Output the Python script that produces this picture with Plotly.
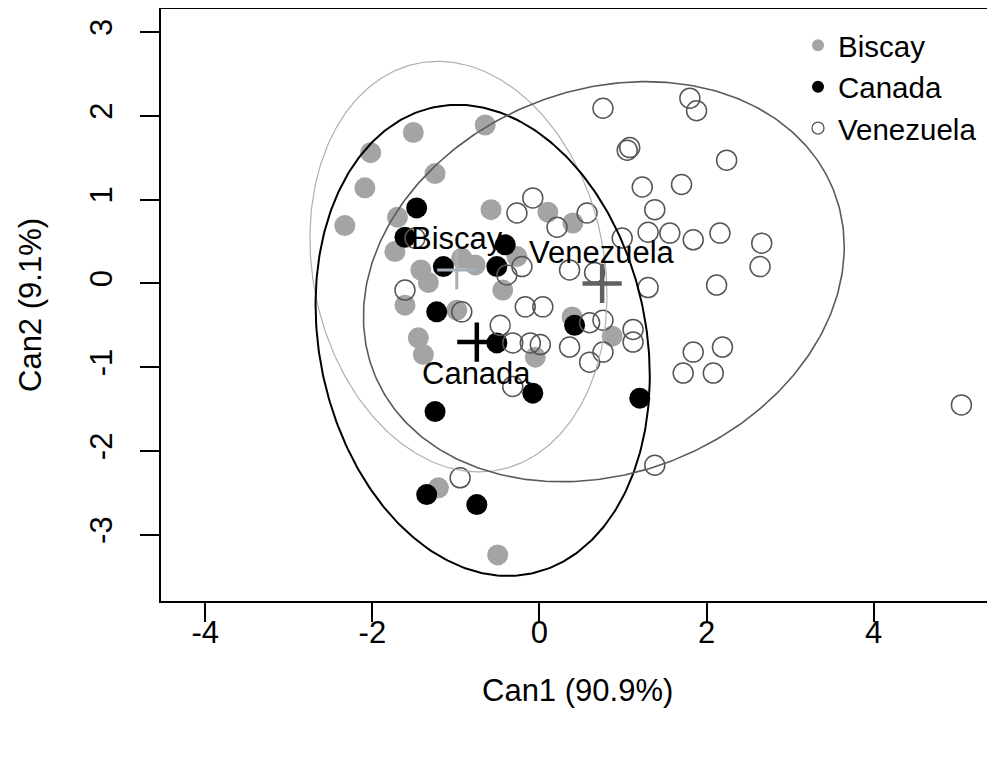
import numpy as np
import plotly.graph_objects as go

# ---- data ----
biscay_x = [-1.51, -2.02, -2.09, -2.33, -1.25, -0.65, -1.70, -0.58, -1.73, -1.42, -1.33, -1.61, -0.99,
            -1.45, -1.39, -0.93, -0.77, -0.27, -0.44, 0.10, 0.40, 0.39, 0.87, -0.05, -1.21, -0.50]
biscay_y = [1.80, 1.56, 1.14, 0.69, 1.31, 1.89, 0.79, 0.88, 0.38, 0.16, 0.01, -0.26, -0.32,
            -0.65, -0.85, 0.30, 0.22, 0.32, -0.08, 0.85, 0.72, -0.40, -0.63, -0.88, -2.44, -3.24]

canada_x = [-1.47, -1.61, -1.15, -0.41, -0.51, -1.23, -0.51, 0.42, -0.08, 1.20, -1.25, -1.35, -0.75]
canada_y = [0.90, 0.55, 0.20, 0.46, 0.20, -0.34, -0.71, -0.50, -1.31, -1.37, -1.53, -2.52, -2.64]

venez_x = [0.76, 1.80, 1.88, 1.05, 1.08, 2.24, 1.23, 1.70, 1.38, 1.30, 1.56, 1.84, 2.16, 2.66, 2.64,
           0.99, 0.57, 2.12, 1.30, -0.08, -0.27, 0.21, -0.21, -0.39, 0.36, 0.66, -0.17, 0.04, 0.76,
           0.60, 1.12, 1.12, 0.76, 0.60, 0.36, 0.01, -0.11, -0.32, -0.47, 1.84, 2.19, 1.72, 2.08,
           1.38, -0.32, -0.95, -1.61, -0.93, -1.49, 5.05]
venez_y = [2.09, 2.21, 2.06, 1.59, 1.62, 1.47, 1.15, 1.18, 0.88, 0.61, 0.60, 0.52, 0.60, 0.48, 0.20,
           0.54, 0.84, -0.02, -0.05, 1.02, 0.84, 0.67, 0.20, 0.10, 0.16, 0.13, -0.28, -0.28, -0.44,
           -0.47, -0.55, -0.70, -0.82, -0.94, -0.76, -0.73, -0.71, -0.71, -0.50, -0.82, -0.76, -1.07, -1.07,
           -2.17, -1.23, -2.32, -0.08, -0.34, 0.54, -1.45]

groups = ["Biscay", "Canada", "Venezuela"]
centroid_x = [-0.99, -0.75, 0.75]
centroid_y = [0.16, -0.70, 0.00]

# ellipse centres and shape matrices [[sxx, sxy], [sxy, syy]]
ell_cx = [-0.97, -0.68, 0.77]
ell_cy = [0.20, -0.68, 0.02]
ell_m = [[[3.16, -0.60], [-0.60, 6.00]],
         [[4.00, -0.85], [-0.85, 7.90]],
         [[8.28, 1.20], [1.20, 5.70]]]

x_ticks = [-4, -2, 0, 2, 4]
y_ticks = [-3, -2, -1, 0, 1, 2, 3]

# ---- styles ----
FONT = "Liberation Sans, Arial, sans-serif"
FS = 31
pt_col = {"Biscay": "#A4A4A4", "Canada": "#000000", "Venezuela": "#555555"}
ell_col = ["#B0B0B0", "#000000", "#5A5A5A"]
ell_w = [1.2, 2.0, 1.6]
cross_col = ["#A8B0B8", "#000000", "#606060"]
cross_w = [3, 4.5, 4.5]

fig = go.Figure()

fig.add_trace(go.Scatter(x=biscay_x, y=biscay_y, mode="markers", showlegend=False,
                         marker=dict(symbol="circle", size=21, color=pt_col["Biscay"], line=dict(width=0))))
fig.add_trace(go.Scatter(x=canada_x, y=canada_y, mode="markers", showlegend=False,
                         marker=dict(symbol="circle", size=21, color=pt_col["Canada"], line=dict(width=0))))
fig.add_trace(go.Scatter(x=venez_x, y=venez_y, mode="markers", showlegend=False,
                         marker=dict(symbol="circle-open", size=20, color=pt_col["Venezuela"],
                                     line=dict(width=1.5, color=pt_col["Venezuela"]))))

t = np.linspace(0, 2 * np.pi, 361)
for i in range(3):
    L = np.linalg.cholesky(np.array(ell_m[i]))
    pts = L @ np.vstack([np.cos(t), np.sin(t)])
    fig.add_trace(go.Scatter(x=ell_cx[i] + pts[0], y=ell_cy[i] + pts[1], mode="lines", showlegend=False,
                             line=dict(color=ell_col[i], width=ell_w[i]), hoverinfo="skip"))

for i in range(3):
    fig.add_trace(go.Scatter(x=[centroid_x[i]], y=[centroid_y[i]], mode="markers", showlegend=False,
                             marker=dict(symbol="cross-thin", size=28,
                                         line=dict(width=cross_w[i], color=cross_col[i]))))

label_shift = [31, -31, 31]
for i in range(3):
    fig.add_annotation(x=centroid_x[i], y=centroid_y[i], text=groups[i], showarrow=False,
                       yshift=label_shift[i], font=dict(family=FONT, size=FS, color="black"))

# legend entries
fig.add_trace(go.Scatter(x=[None], y=[None], mode="markers", name="Biscay",
                         marker=dict(symbol="circle", size=12, color=pt_col["Biscay"])))
fig.add_trace(go.Scatter(x=[None], y=[None], mode="markers", name="Canada",
                         marker=dict(symbol="circle", size=12, color="black")))
fig.add_trace(go.Scatter(x=[None], y=[None], mode="markers", name="Venezuela",
                         marker=dict(symbol="circle-open", size=12, color=pt_col["Venezuela"],
                                     line=dict(width=1.3))))

axis_common = dict(showline=True, linecolor="black", linewidth=1.5, mirror=True,
                   ticks="outside", ticklen=19, tickwidth=1.5, tickcolor="black",
                   showgrid=False, zeroline=False,
                   tickfont=dict(family=FONT, size=FS, color="black"))

fig.update_layout(
    width=987, height=750,
    margin=dict(l=153, r=1, t=1, b=157, autoexpand=False),
    paper_bgcolor="white", plot_bgcolor="white",
    xaxis=dict(range=[-4.53, 5.44], tickvals=x_ticks, ticktext=[str(v) for v in x_ticks],
               ticklabelstandoff=-16, **axis_common),
    yaxis=dict(range=[-3.79, 3.274], tickvals=y_ticks, ticktext=[str(v) for v in y_ticks],
               tickangle=-90, ticklabelstandoff=16, **axis_common),
    legend=dict(x=0.7647, y=0.982, xanchor="left", yanchor="top", bgcolor="rgba(0,0,0,0)",
                font=dict(family=FONT, size=29.5, color="black"), borderwidth=0),
    showlegend=True,
)

fig.add_annotation(text="Can1 (90.9%)", xref="paper", yref="paper", x=0.5, y=0, yanchor="middle",
                   yshift=-89, showarrow=False, font=dict(family=FONT, size=FS, color="black"))
fig.add_annotation(text="Can2 (9.1%)", xref="paper", yref="paper", x=0, y=0.5, xanchor="center",
                   xshift=-131, textangle=-90, showarrow=False,
                   font=dict(family=FONT, size=FS, color="black"))

fig.write_html("out.html")
